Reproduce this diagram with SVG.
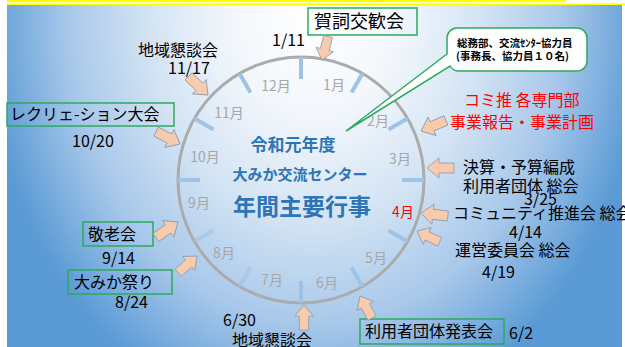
<svg xmlns="http://www.w3.org/2000/svg" xmlns:xlink="http://www.w3.org/1999/xlink" width="625" height="347" viewBox="0 0 625 347">
<defs>
<radialGradient id="bg" gradientUnits="userSpaceOnUse" cx="315" cy="10" r="330" gradientTransform="translate(315 10) scale(1 1.27) translate(-315 -10)">
<stop offset="0" stop-color="#ffffff"/>
<stop offset="0.25" stop-color="#f3f7fc"/>
<stop offset="0.5" stop-color="#d4e4f4"/>
<stop offset="0.75" stop-color="#a8c8ea"/>
<stop offset="1" stop-color="#5b9bd5"/>
</radialGradient>
<polygon id="arr" points="-27,-5 -12,-5 -12,-10 0,0 -12,10 -12,5 -27,5"/>
<style>
text{font-family:"Noto Sans CJK JP","Noto Sans",sans-serif;}
.t{font-size:16px;fill:#000;}
.red{font-size:16px;fill:#ff0000;}
.m{font-size:14px;fill:#a6a6a6;text-anchor:middle;}
.title{font-weight:700;fill:#2e75b6;text-anchor:middle;}
.box{fill:none;stroke:#2bab5c;stroke-width:1.5;}
.arrow{fill:#f8cbad;stroke:#8497b0;stroke-width:0.8;}
.tick{stroke:#9dc3e6;stroke-width:4;}
.co{font-size:10.5px;font-weight:700;fill:#000;}
</style>
</defs>
<rect x="0" y="0" width="625" height="347" fill="#ffffff"/>
<rect x="7" y="0" width="559" height="2.2" fill="#ffff00"/>
<rect x="7" y="3.5" width="618" height="1.5" fill="#ffff00"/>
<rect x="7" y="5" width="615" height="342" fill="url(#bg)"/>

<g id="clock">
<circle cx="301" cy="180" r="123" fill="none" stroke="#ababab" stroke-width="3"/>
<g class="tick">
<line x1="301" y1="79" x2="301" y2="57"/>
<line x1="351.5" y1="92.5" x2="362.5" y2="73.5"/>
<line x1="388.5" y1="129.5" x2="407.5" y2="118.5"/>
<line x1="402" y1="180" x2="424" y2="180"/>
<line x1="388.5" y1="230.5" x2="407.5" y2="241.5"/>
<line x1="351.5" y1="267.5" x2="362.5" y2="286.5"/>
<line x1="301" y1="281" x2="301" y2="303"/>
<line x1="250.5" y1="267.5" x2="239.5" y2="286.5" stroke-opacity="0.6"/>
<line x1="213.5" y1="230.5" x2="194.5" y2="241.5" stroke-opacity="0.6"/>
<line x1="200" y1="180" x2="178" y2="180"/>
<line x1="213.5" y1="129.5" x2="194.5" y2="118.5"/>
<line x1="250.5" y1="92.5" x2="239.5" y2="73.5"/>
</g>
<text class="m" x="334" y="90">1月</text>
<text class="m" x="378" y="126">2月</text>
<text class="m" x="400" y="164">3月</text>
<text class="m" x="403" y="217" style="fill:#ff0000">4月</text>
<text class="m" x="376" y="263">5月</text>
<text class="m" x="327" y="288">6月</text>
<text class="m" x="272" y="285">7月</text>
<text class="m" x="224" y="258">8月</text>
<text class="m" x="199" y="208">9月</text>
<text class="m" x="205" y="162">10月</text>
<text class="m" x="229" y="118">11月</text>
<text class="m" x="276" y="91">12月</text>
</g>

<g id="title">
<text class="title" x="293" y="151" font-size="17">令和元年度</text>
<text class="title" x="300" y="180" font-size="15">大みか交流センター</text>
<text class="title" x="302" y="215" font-size="23">年間主要行事</text>
</g>

<g id="callout">
<path d="M457,28 H577 A10,10 0 0 1 587,38 V61 A10,10 0 0 1 577,71 H458 A10,10 0 0 1 450,66 L346,131 L447,54 V38 A10,10 0 0 1 457,28 Z" fill="#ffffff" stroke="#2bab5c" stroke-width="1.5"/>
<text class="co" x="457" y="47">総務部、交流ｾﾝﾀｰ協力員</text>
<text class="co" x="456" y="60">(事務長、協力員１０名)</text>
</g>

<g id="node-gashi">
<rect class="box" x="308" y="8" width="109" height="27"/>
<text x="314" y="28" font-size="18">賀詞交歓会</text>
<text class="t" x="272" y="46">1/11</text>
</g>
<g id="node-chiiki1">
<text class="t" x="138" y="56">地域懇談会</text>
<text class="t" x="168" y="74">11/17</text>
</g>
<g id="node-recreation">
<rect class="box" x="7" y="103" width="167" height="23"/>
<text class="t" x="10" y="120">レクリェ-ション大会</text>
<text class="t" x="72" y="147">10/20</text>
</g>
<g id="node-keirou">
<rect class="box" x="83" y="222" width="70" height="24"/>
<text class="t" x="88" y="240">敬老会</text>
<text class="t" x="102" y="264">9/14</text>
</g>
<g id="node-matsuri">
<rect class="box" x="68" y="270" width="104" height="24"/>
<text class="t" x="74" y="288">大みか祭り</text>
<text class="t" x="115" y="308">8/24</text>
</g>
<g id="node-chiiki2">
<text class="t" x="223" y="326">6/30</text>
<text class="t" x="232" y="346">地域懇談会</text>
</g>
<g id="node-happyou">
<rect class="box" x="360" y="319" width="144" height="25"/>
<text class="t" x="365" y="337">利用者団体発表会</text>
<text class="t" x="509" y="339">6/2</text>
</g>
<g id="node-komisui">
<text class="red" x="464" y="106">コミ推 各専門部</text>
<text class="red" x="450" y="128">事業報告・事業計画</text>
</g>
<g id="node-kessan">
<text class="t" x="463" y="173">決算・予算編成</text>
<text class="t" x="463" y="192">利用者団体 総会</text>
<text class="t" x="524" y="205">3/25</text>
</g>
<g id="node-community">
<text class="t" x="453" y="219">コミュニティ推進会 総会</text>
<text class="t" x="509" y="238">4/14</text>
</g>
<g id="node-unei">
<text class="t" x="455" y="256">運営委員会 総会</text>
<text class="t" x="482" y="278">4/19</text>
</g>

<g id="connectors" class="arrow">
<use xlink:href="#arr" transform="translate(322 60) rotate(104.6) scale(0.9)"/>
<use xlink:href="#arr" transform="translate(208 95) rotate(43.6)"/>
<use xlink:href="#arr" transform="translate(180 144) rotate(27.4)"/>
<use xlink:href="#arr" transform="translate(178 222) rotate(-34.8)"/>
<use xlink:href="#arr" transform="translate(197 256) rotate(-41.8) scale(0.93)"/>
<use xlink:href="#arr" transform="translate(304 305) rotate(-90) scale(0.93)"/>
<use xlink:href="#arr" transform="translate(360 296) rotate(-118.6) scale(0.93)"/>
<use xlink:href="#arr" transform="translate(417 231) rotate(-154.4) scale(0.93)"/>
<use xlink:href="#arr" transform="translate(421 213) rotate(-173.7)"/>
<use xlink:href="#arr" transform="translate(427 168) rotate(180)"/>
<use xlink:href="#arr" transform="translate(421 131) rotate(157)"/>
</g>
</svg>
